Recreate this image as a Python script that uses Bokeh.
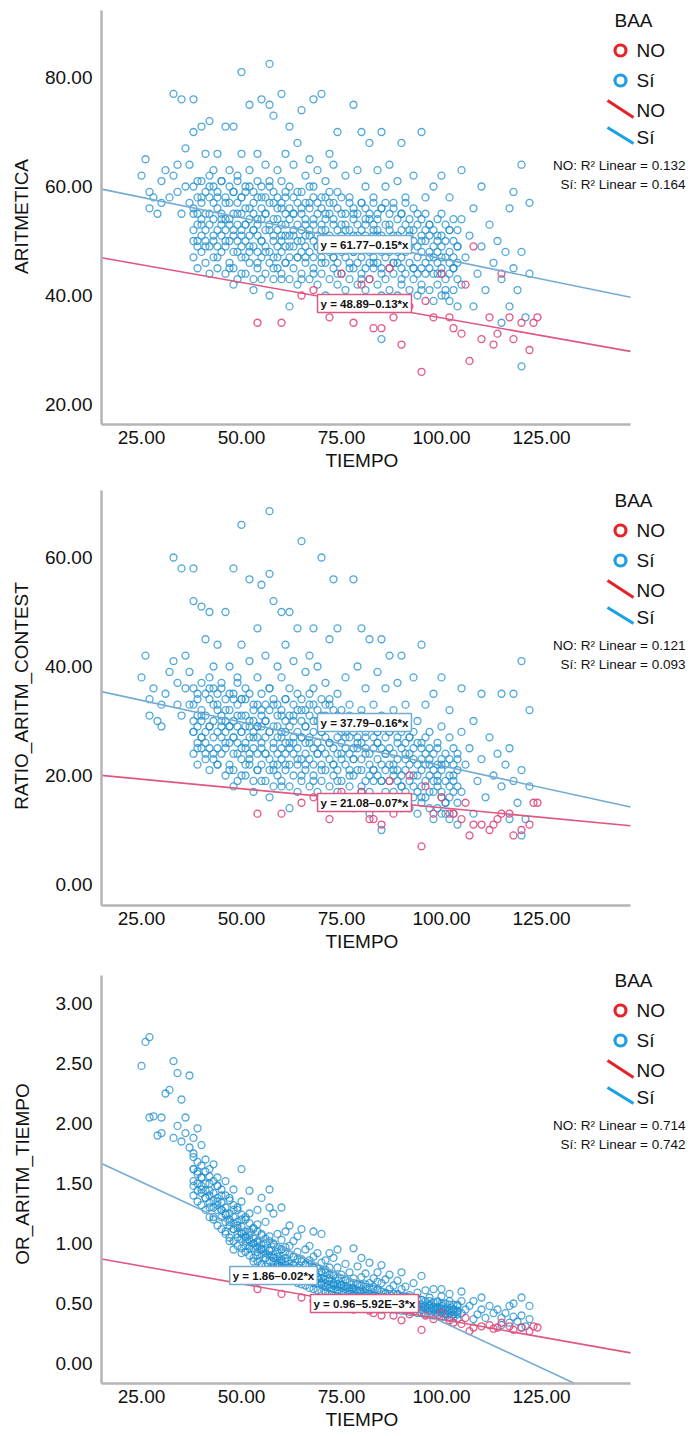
from bokeh.plotting import figure
from bokeh.layouts import column
from bokeh.models import Label, Range1d, FixedTicker, PrintfTickFormatter, Title
from bokeh.embed import file_html
from bokeh.resources import INLINE

# ---------------- data ----------------
# BAA = Sí, scattered subjects (TIEMPO shared by the three panels)
tiempo_si = [
    25, 26, 27, 27, 28, 29, 30, 30, 31, 32, 33, 33, 34, 35, 35, 34,
    36, 36, 37, 37, 38, 38, 38, 39, 39, 40, 40, 40, 41, 41, 42, 42, 42, 43, 43, 44, 44, 44, 45, 45,
    46, 46, 46, 47, 47, 47, 48, 48, 48, 48, 49, 49, 49, 50, 50, 50, 50, 50, 51, 51, 51, 52, 52, 52, 52, 53, 53, 53, 54, 54, 54, 54, 55, 55, 55, 55,
    56, 56, 56, 57, 57, 57, 57, 57, 58, 58, 58, 58, 59, 59, 59, 60, 60, 60, 60, 60, 61, 61, 61, 61, 62, 62, 62, 62, 63, 63, 63, 64, 64, 64, 65, 65,
    65, 65, 66, 66, 66, 67, 67, 67, 68, 68, 68, 68, 69, 69, 70, 70, 70, 70, 71, 71, 71, 72, 72, 72, 73, 73, 73, 74, 74, 74, 75, 75,
    76, 76, 77, 77, 78, 78, 78, 79, 79, 80, 80, 80, 81, 81, 82, 82, 82, 83, 83, 84, 84, 85, 85, 85, 85, 84, 83, 81,
    86, 86, 87, 87, 88, 88, 89, 89, 90, 90, 90, 91, 91, 92, 93, 93, 94, 95, 95, 95, 96, 97, 97, 98, 99, 99,
    100, 100, 100, 101, 102, 102, 103, 104, 105, 105, 105, 106, 107, 108, 108, 109, 110, 110,
    111, 112, 113, 114, 115, 115, 116, 117, 117, 118, 118, 119, 120, 120, 120, 121, 122, 122,
]
aritmetica_si = [
    62, 65, 59, 56, 58, 55, 61, 57, 63, 58, 77, 62, 59, 76, 55, 64,
    67, 60, 57, 64, 76, 70, 55, 61, 50, 71, 58, 53, 66, 49, 72, 60, 55, 63, 51, 58, 47, 66, 54, 61,
    71, 57, 50, 63, 54, 45, 71, 59, 52, 42, 62, 55, 48, 81, 66, 58, 51, 44, 60, 53, 47, 75, 63, 56, 49, 59, 52, 41, 66, 61, 54, 46, 76, 58, 50, 43,
    64, 55, 48, 82.5, 75, 60, 52, 40, 73, 57, 50, 45, 63, 54, 47, 77, 61, 56, 51, 43, 66, 58, 53, 46, 71, 60, 49, 38, 64, 55, 51, 59, 47, 68, 74, 56,
    50, 43, 62, 53, 47, 65, 57, 51, 76, 60, 54, 44, 63, 49, 77, 58, 52, 46, 61, 55, 40, 66, 50, 57, 53, 64, 47, 70, 59, 44, 55, 49,
    62, 52, 58, 45, 75, 55, 48, 63, 51, 70, 57, 43, 60, 49, 68, 54, 38, 58, 46, 63, 51, 70, 56, 44, 32, 55, 52, 53,
    60, 49, 53, 64, 57, 46, 51, 61, 68, 55, 43, 58, 49, 52, 62, 45, 55, 70, 50, 41, 58, 47, 53, 60, 44, 51,
    62, 55, 47, 40, 52, 58, 45, 49, 63, 54, 42, 47, 51, 38, 56, 44, 60, 49,
    41, 53, 46, 50, 35, 43, 48, 56, 38, 45, 59, 41, 64, 48, 27, 36, 57, 44,
]
ratio_si = [
    38, 42, 34, 31, 36, 30, 33, 29, 35, 39, 60, 41, 33, 58, 31, 37,
    42, 36, 33, 39, 58, 52, 28, 35, 25, 51, 31, 27, 45, 24, 50, 36, 29, 40, 23, 33, 22, 44, 30, 37,
    50, 32, 26, 40, 29, 21, 58, 35, 27, 18, 38, 31, 24, 66, 44, 34, 28, 20, 36, 25, 22, 56, 41, 30, 23, 33, 27, 17, 47, 38, 29, 21, 55, 32, 26, 19,
    42, 30, 24, 68.5, 57, 36, 28, 16, 52, 33, 25, 21, 40, 29, 22, 50, 38, 31, 27, 18, 44, 34, 28, 22, 50, 36, 25, 14, 41, 31, 26, 35, 23, 47, 63, 32,
    27, 20, 39, 29, 22, 42, 33, 26, 47, 36, 30, 19, 40, 24, 60, 34, 28, 21, 37, 31, 16, 45, 26, 33, 29, 56, 22, 47, 35, 19, 30, 24,
    38, 27, 33, 20, 56, 30, 23, 40, 26, 47, 32, 17, 36, 24, 45, 29, 13, 33, 21, 39, 26, 45, 31, 19, 10, 28, 30, 27,
    36, 24, 28, 42, 32, 21, 26, 37, 42, 30, 18, 33, 24, 27, 38, 20, 30, 44, 25, 16, 33, 22, 28, 35, 19, 26,
    38, 29, 22, 15, 27, 32, 20, 24, 36, 28, 17, 22, 25, 13, 30, 19, 35, 23,
    16, 27, 20, 24, 35, 18, 22, 25, 12, 19, 35, 15, 41, 21, 9, 12, 32, 18,
]
or_si = [
    2.48, 2.68, 2.72, 2.05, 2.06, 1.90, 2.05, 1.92, 2.25, 2.28, 2.52, 1.88, 2.42, 2.20, 1.85, 1.98,
    2.05, 1.92, 1.80, 2.40, 1.88, 1.75, 1.62, 1.96, 1.58, 1.82, 1.55, 1.45, 1.70, 1.38, 1.62, 1.50, 1.30, 1.66, 1.22, 1.48, 1.35, 1.55, 1.28, 1.40,
    1.52, 1.25, 1.10, 1.38, 1.18, 1.02, 1.45, 1.28, 1.12, 0.95, 1.30, 1.15, 1.05, 1.62, 1.35, 1.20, 1.08, 0.92, 1.22, 1.05, 0.98, 1.44, 1.25, 1.10, 0.96, 1.12, 1.00, 0.85, 1.28, 1.16, 1.02, 0.90, 1.38, 1.08, 0.95, 0.82,
    1.18, 1.00, 0.88, 1.45, 1.30, 1.06, 0.94, 0.78, 1.25, 1.00, 0.88, 0.80, 1.08, 0.93, 0.83, 1.30, 1.03, 0.95, 0.86, 0.75, 1.10, 0.97, 0.88, 0.78, 1.15, 0.98, 0.80, 0.70, 1.02, 0.89, 0.82, 0.93, 0.76, 1.06, 1.12, 0.87,
    0.78, 0.70, 0.95, 0.82, 0.73, 0.98, 0.86, 0.77, 1.10, 0.89, 0.80, 0.67, 0.92, 0.72, 1.08, 0.84, 0.76, 0.67, 0.86, 0.78, 0.60, 0.92, 0.71, 0.80, 0.74, 0.88, 0.66, 0.95, 0.80, 0.61, 0.74, 0.66,
    0.83, 0.70, 0.76, 0.60, 0.96, 0.71, 0.63, 0.81, 0.66, 0.88, 0.72, 0.56, 0.75, 0.62, 0.84, 0.67, 0.52, 0.71, 0.57, 0.76, 0.62, 0.82, 0.67, 0.54, 0.45, 0.68, 0.64, 0.66,
    0.70, 0.58, 0.62, 0.74, 0.65, 0.53, 0.58, 0.69, 0.76, 0.62, 0.49, 0.64, 0.55, 0.57, 0.67, 0.50, 0.59, 0.73, 0.53, 0.45, 0.61, 0.49, 0.55, 0.62, 0.46, 0.52,
    0.62, 0.56, 0.48, 0.41, 0.52, 0.58, 0.45, 0.49, 0.60, 0.52, 0.42, 0.45, 0.48, 0.37, 0.52, 0.41, 0.55, 0.45,
    0.38, 0.48, 0.42, 0.45, 0.32, 0.38, 0.42, 0.48, 0.34, 0.39, 0.50, 0.35, 0.55, 0.40, 0.30, 0.31, 0.48, 0.37,
]

# BAA = Sí, dense core: one TIEMPO value per row, five subjects per row
tiempo_core = [38, 39, 40, 41, 42, 43, 44, 45, 46, 47, 48, 49, 50, 51, 52, 53, 54, 55, 56, 57,
               58, 59, 60, 61, 62, 63, 64, 65, 66, 67, 68, 69, 70, 71, 72, 73, 74, 75, 76, 77,
               78, 79, 80, 81, 82, 83, 84, 85, 86, 87, 88, 89, 90, 91, 92, 93, 94, 95, 96, 97,
               98, 99, 100, 101, 102, 103, 104]
aritmetica_core = [
    [47, 52, 56, 60, 50], [45, 53, 58, 49, 55], [48, 51, 57, 61, 54], [46, 50, 55, 59, 52], [44, 49, 53, 58, 62],
    [47, 54, 57, 50, 60], [45, 52, 56, 49, 59], [48, 51, 55, 61, 53], [44, 49, 54, 58, 52], [46, 50, 57, 60, 53],
    [45, 48, 55, 59, 51], [43, 50, 53, 57, 61], [47, 52, 55, 49, 58], [44, 50, 56, 59, 53], [46, 48, 54, 60, 51],
    [43, 49, 55, 57, 52], [45, 51, 53, 58, 48], [47, 50, 56, 60, 54], [44, 52, 55, 58, 49], [46, 48, 53, 57, 61],
    [43, 51, 54, 59, 47], [45, 49, 56, 52, 58], [44, 48, 53, 57, 50], [46, 51, 55, 59, 49], [43, 47, 54, 56, 51],
    [45, 49, 52, 58, 55], [42, 50, 53, 57, 47], [44, 48, 55, 59, 52], [46, 51, 54, 57, 49], [43, 48, 52, 56, 60],
    [45, 50, 53, 58, 47], [42, 49, 55, 51, 57], [44, 47, 53, 56, 50], [46, 49, 52, 58, 54], [43, 48, 51, 55, 59],
    [45, 50, 54, 57, 47], [42, 46, 52, 56, 49], [44, 48, 53, 58, 51], [41, 47, 50, 55, 53], [43, 49, 52, 57, 46],
    [45, 48, 54, 56, 51], [42, 46, 50, 55, 53], [44, 49, 52, 57, 47], [41, 45, 51, 54, 56], [43, 48, 50, 55, 46],
    [45, 47, 53, 57, 51], [42, 46, 49, 54, 52], [40, 48, 51, 56, 45], [43, 47, 50, 53, 57], [41, 45, 52, 55, 48],
    [44, 49, 51, 56, 46], [40, 46, 50, 54, 48], [42, 47, 52, 55, 45], [44, 48, 50, 53, 57], [41, 46, 49, 54, 51],
    [43, 45, 50, 52, 56], [40, 47, 49, 53, 44], [42, 45, 51, 54, 48], [44, 46, 50, 55, 52], [41, 48, 51, 53, 45],
    [39, 44, 49, 52, 47], [42, 46, 48, 54, 50], [40, 45, 49, 51, 44], [43, 47, 50, 53, 41], [39, 44, 48, 52, 46],
    [41, 45, 47, 50, 54], [38, 43, 46, 49, 52],
]
ratio_core = [
    [24, 28, 33, 36, 30], [22, 29, 34, 26, 31], [25, 27, 32, 37, 30], [23, 26, 31, 35, 28], [21, 25, 29, 34, 38],
    [24, 30, 33, 27, 36], [22, 28, 32, 25, 35], [24, 27, 31, 36, 29], [20, 25, 30, 34, 28], [22, 26, 32, 35, 29],
    [21, 24, 30, 34, 27], [19, 26, 29, 33, 37], [23, 28, 31, 25, 34], [20, 26, 31, 34, 29], [22, 24, 29, 35, 27],
    [19, 25, 30, 32, 28], [21, 27, 29, 33, 24], [22, 25, 31, 35, 29], [19, 27, 30, 33, 24], [21, 23, 28, 32, 36],
    [18, 26, 29, 34, 22], [20, 24, 31, 27, 33], [19, 23, 28, 32, 25], [21, 26, 30, 34, 24], [18, 22, 29, 31, 26],
    [20, 24, 27, 33, 30], [17, 25, 28, 32, 22], [19, 23, 30, 34, 27], [21, 26, 29, 32, 24], [18, 23, 27, 31, 35],
    [20, 25, 28, 33, 22], [17, 24, 30, 26, 32], [19, 22, 28, 31, 25], [21, 24, 27, 33, 29], [18, 23, 26, 30, 34],
    [20, 25, 29, 32, 22], [17, 21, 27, 31, 24], [19, 23, 28, 32, 26], [16, 22, 25, 30, 28], [18, 24, 27, 31, 21],
    [20, 23, 28, 30, 25], [16, 21, 25, 29, 27], [18, 23, 26, 31, 21], [15, 19, 25, 28, 30], [17, 22, 24, 29, 20],
    [19, 21, 27, 30, 25], [16, 20, 23, 28, 26], [14, 22, 25, 29, 19], [17, 21, 24, 27, 30], [15, 19, 25, 28, 22],
    [17, 22, 24, 29, 20], [14, 19, 23, 27, 21], [15, 20, 25, 28, 18], [17, 21, 23, 26, 29], [14, 19, 22, 27, 24],
    [16, 18, 23, 25, 28], [13, 20, 22, 26, 17], [15, 18, 23, 26, 21], [16, 19, 22, 27, 24], [14, 20, 23, 25, 17],
    [12, 17, 21, 24, 19], [14, 18, 20, 25, 22], [13, 17, 21, 23, 16], [15, 19, 22, 24, 13], [12, 16, 20, 23, 18],
    [13, 17, 19, 22, 25], [11, 15, 18, 21, 23],
]
or_core = [
    [1.40, 1.52, 1.62, 1.72, 1.48], [1.35, 1.50, 1.60, 1.44, 1.68], [1.32, 1.42, 1.55, 1.65, 1.48], [1.28, 1.38, 1.50, 1.60, 1.44],
    [1.22, 1.34, 1.44, 1.56, 1.40], [1.20, 1.30, 1.42, 1.52, 1.36], [1.15, 1.28, 1.38, 1.48, 1.32], [1.12, 1.22, 1.34, 1.45, 1.28],
    [1.08, 1.18, 1.30, 1.40, 1.24], [1.05, 1.15, 1.25, 1.36, 1.20], [1.02, 1.12, 1.22, 1.32, 1.17], [0.98, 1.08, 1.18, 1.28, 1.13],
    [0.96, 1.04, 1.14, 1.24, 1.09], [0.93, 1.02, 1.10, 1.20, 1.06], [0.90, 0.98, 1.07, 1.17, 1.03], [0.88, 0.96, 1.04, 1.13, 1.00],
    [0.85, 0.93, 1.01, 1.10, 0.97], [0.83, 0.91, 0.99, 1.07, 0.95], [0.81, 0.88, 0.96, 1.04, 0.92], [0.79, 0.86, 0.94, 1.02, 0.90],
    [0.77, 0.84, 0.91, 0.99, 0.88], [0.75, 0.82, 0.89, 0.97, 0.86], [0.74, 0.80, 0.87, 0.95, 0.84], [0.72, 0.78, 0.85, 0.93, 0.82],
    [0.70, 0.77, 0.83, 0.91, 0.80], [0.69, 0.75, 0.82, 0.89, 0.78], [0.67, 0.74, 0.80, 0.87, 0.77], [0.66, 0.72, 0.78, 0.85, 0.75],
    [0.65, 0.71, 0.77, 0.83, 0.74], [0.63, 0.69, 0.75, 0.82, 0.72], [0.62, 0.68, 0.74, 0.80, 0.71], [0.61, 0.67, 0.72, 0.79, 0.70],
    [0.60, 0.66, 0.71, 0.77, 0.68], [0.59, 0.64, 0.70, 0.76, 0.67], [0.58, 0.63, 0.69, 0.74, 0.66], [0.57, 0.62, 0.67, 0.73, 0.65],
    [0.56, 0.61, 0.66, 0.72, 0.64], [0.55, 0.60, 0.65, 0.71, 0.63], [0.54, 0.59, 0.64, 0.69, 0.62], [0.53, 0.58, 0.63, 0.68, 0.61],
    [0.52, 0.57, 0.62, 0.67, 0.60], [0.52, 0.56, 0.61, 0.66, 0.59], [0.51, 0.55, 0.60, 0.65, 0.58], [0.50, 0.54, 0.59, 0.64, 0.57],
    [0.49, 0.54, 0.58, 0.63, 0.56], [0.49, 0.53, 0.57, 0.62, 0.55], [0.48, 0.52, 0.56, 0.61, 0.54], [0.47, 0.51, 0.56, 0.60, 0.53],
    [0.47, 0.51, 0.55, 0.59, 0.53], [0.46, 0.50, 0.54, 0.58, 0.52], [0.45, 0.49, 0.53, 0.58, 0.51], [0.45, 0.49, 0.53, 0.57, 0.51],
    [0.44, 0.48, 0.52, 0.56, 0.50], [0.44, 0.47, 0.51, 0.56, 0.49], [0.43, 0.47, 0.51, 0.55, 0.49], [0.43, 0.46, 0.50, 0.54, 0.48],
    [0.42, 0.46, 0.49, 0.54, 0.48], [0.42, 0.45, 0.49, 0.53, 0.47], [0.41, 0.45, 0.48, 0.52, 0.47], [0.41, 0.44, 0.48, 0.52, 0.46],
    [0.40, 0.44, 0.47, 0.51, 0.46], [0.40, 0.43, 0.47, 0.51, 0.45], [0.39, 0.43, 0.46, 0.50, 0.45], [0.39, 0.42, 0.46, 0.50, 0.44],
    [0.38, 0.42, 0.45, 0.49, 0.44], [0.38, 0.41, 0.45, 0.49, 0.43], [0.37, 0.41, 0.44, 0.48, 0.43],
]

# BAA = NO
tiempo_no = [54, 60, 65, 68, 72, 75, 78, 80, 82, 83, 85, 87, 88, 90, 92, 95, 96, 98, 100, 102,
             103, 105, 106, 107, 108, 110, 112, 113, 114, 115, 117, 118, 120, 122, 123, 124]
aritmetica_no = [35, 35, 40, 41, 36, 44, 35, 42, 43, 34, 34, 45, 36, 31, 38, 26, 39, 36, 44, 36,
                 34, 33, 42, 28, 49, 32, 36, 31, 33, 44, 36, 32, 35, 30, 35, 36]
ratio_no = [13, 13, 15, 16, 12, 17, 14, 17, 12, 12, 11, 19, 13, 14, 20, 7, 18, 13, 16, 13,
            13, 12, 15, 9, 11, 11, 10, 11, 12, 13, 13, 9, 10, 11, 15, 15]
or_no = [0.62, 0.58, 0.55, 0.52, 0.48, 0.50, 0.45, 0.47, 0.44, 0.42, 0.40, 0.46, 0.40, 0.36, 0.41, 0.28, 0.40, 0.37, 0.42, 0.36,
         0.34, 0.33, 0.38, 0.27, 0.30, 0.31, 0.32, 0.29, 0.30, 0.34, 0.31, 0.28, 0.30, 0.27, 0.31, 0.30]

# axes, fitted lines (intercept, slope) and printed texts
y_labels = ["ARITMETICA", "RATIO_ARITM_CONTEST", "OR_ARITM_TIEMPO"]
x_label = "TIEMPO"
y_ticks = [[20, 40, 60, 80], [0, 20, 40, 60], [0, 0.5, 1.0, 1.5, 2.0, 2.5, 3.0]]
x_ticks = [25, 50, 75, 100, 125]
fit_si = [(61.77, -0.15), (37.79, -0.16), (1.90, -0.0155)]
fit_no = [(48.89, -0.13), (21.08, -0.07), (0.96, -0.00592)]
eq_si = ["y = 61.77\u20130.15*x", "y = 37.79\u20130.16*x", "y = 1.86\u20130.02*x"]
eq_no = ["y = 48.89\u20130.13*x", "y = 21.08\u20130.07*x", "y = 0.96\u20135.92E\u20133*x"]
r2_no = ["0.132", "0.121", "0.714"]
r2_si = ["0.164", "0.093", "0.742"]

# ---------------- layout / style ----------------
FONT = "Liberation Sans"
W = 693
FL = 101                    # frame left (page px)
AXR = 630                   # where the x axis line ends (page px)
X0 = 15.0
XAX = X0 + (AXR - FL) / 4.0          # end of x axis
X1 = X0 + (W - FL) / 4.0             # frame continues to the right edge (legend area)
BLUE_PT, RED_PT = "#1f8fd0", "#e0457a"
BLUE_LN, RED_LN = "#74abd3", "#e0577f"
BLUE_LG, RED_LG = "#1ca0e3", "#e3242b"
XLAB_LEFT = 325             # left edge of the "TIEMPO" title (page px)

geos = [
    dict(top=0, bottom=480, ft=8, at=10, fb=424, ylab_off=10, yref=(80, 77, 20, 404),
         eq_si=(364, 244), eq_no=(364, 303)),
    dict(top=480, bottom=960, ft=486, at=490, fb=905, ylab_off=10, yref=(60, 557, 0, 884),
         eq_si=(364, 722), eq_no=(364, 802)),
    dict(top=960, bottom=1436, ft=964, at=975, fb=1383, ylab_off=20, yref=(3.0, 1003, 0.0, 1363),
         eq_si=(273, 1275), eq_no=(364, 1303)),
]
series_si = [aritmetica_si, ratio_si, or_si]
series_core = [aritmetica_core, ratio_core, or_core]
series_no = [aritmetica_no, ratio_no, or_no]

core_x = [t for t, row in zip(tiempo_core, aritmetica_core) for _ in row]


def dx(px):
    return X0 + (px - FL) / 4.0


def make_dy(g):
    va, pa, vb, pb = g["yref"]
    k = (va - vb) / (pb - pa)
    return lambda py: vb + (pb - py) * k


figs = []
for i, g in enumerate(geos):
    dy = make_dy(g)
    p = figure(width=W, height=g["bottom"] - g["top"],
               x_range=Range1d(X0, X1), y_range=Range1d(dy(g["fb"]), dy(g["ft"])),
               output_backend="svg", toolbar_location=None,
               min_border_left=FL, min_border_right=0,
               min_border_top=g["ft"] - g["top"], min_border_bottom=g["bottom"] - g["fb"])
    p.xgrid.visible = False
    p.ygrid.visible = False
    p.outline_line_color = None
    p.background_fill_color = "white"

    for ax in (p.xaxis[0], p.yaxis[0]):
        ax.axis_line_color = "#b4b4b4"
        ax.axis_line_width = 2.5
        ax.major_tick_line_color = None
        ax.minor_tick_line_color = None
        ax.major_tick_out = 0
        ax.major_tick_in = 0
        ax.major_label_text_font = FONT
        ax.major_label_text_font_size = "19px"
        ax.major_label_text_color = "#111111"
        ax.axis_label_text_font = FONT
        ax.axis_label_text_font_size = "19px"
        ax.axis_label_text_font_style = "normal"
        ax.axis_label_text_color = "#111111"
        ax.formatter = PrintfTickFormatter(format="%.2f")
    p.xaxis[0].ticker = FixedTicker(ticks=x_ticks)
    p.xaxis[0].bounds = (X0, XAX)
    p.xaxis[0].major_label_standoff = 6
    p.yaxis[0].ticker = FixedTicker(ticks=y_ticks[i])
    p.yaxis[0].bounds = (dy(g["fb"]), dy(g["at"]))
    p.yaxis[0].axis_label = y_labels[i]
    p.yaxis[0].major_label_standoff = 9
    p.yaxis[0].axis_label_standoff = g["ylab_off"]

    # x axis title, centred under the axis line (not under the wider frame)
    p.add_layout(Title(text=x_label, align="left", offset=XLAB_LEFT - FL,
                       text_font=FONT, text_font_size="19px", text_font_style="normal",
                       text_color="#111111", standoff=2), "below")

    # points
    core_y = [v for row in series_core[i] for v in row]
    p.scatter(core_x, core_y, marker="circle", size=7, fill_color=None,
              line_color=BLUE_PT, line_alpha=0.78, line_width=1.3)
    p.scatter(tiempo_si, series_si[i], marker="circle", size=7, fill_color=None,
              line_color=BLUE_PT, line_alpha=0.78, line_width=1.3)
    p.scatter(tiempo_no, series_no[i], marker="circle", size=7, fill_color=None,
              line_color=RED_PT, line_alpha=0.9, line_width=1.3)

    # fit lines (drawn over the x-axis extent)
    for (a, b), col in ((fit_si[i], BLUE_LN), (fit_no[i], RED_LN)):
        xs = [X0, XAX]
        p.line(xs, [a + b * x for x in xs], line_color=col, line_width=1.6)

    # equation boxes
    for (px, py), txt, col in ((g["eq_si"], eq_si[i], BLUE_LN), (g["eq_no"], eq_no[i], RED_LN)):
        p.add_layout(Label(x=dx(px), y=dy(py), text=txt, text_font=FONT,
                           text_font_size="11.5px", text_font_style="bold", text_color="#111111",
                           text_align="center", text_baseline="middle",
                           background_fill_color="white", border_line_color=col,
                           border_line_width=1.5, padding=3))

    # legend
    b0 = g["top"]
    p.add_layout(Label(x=dx(633), y=dy(b0 + 20), text="BAA", text_font=FONT,
                       text_font_size="19px", text_color="#111111",
                       text_align="center", text_baseline="middle"))
    p.scatter([dx(620)], [dy(b0 + 50)], marker="circle", size=11, fill_color=None,
              line_color=RED_LG, line_width=3.2)
    p.scatter([dx(620)], [dy(b0 + 80)], marker="circle", size=11, fill_color=None,
              line_color=BLUE_LG, line_width=3.2)
    p.segment(x0=[dx(607)], y0=[dy(b0 + 100)], x1=[dx(633)], y1=[dy(b0 + 117)],
              line_color=RED_LG, line_width=3.2)
    p.segment(x0=[dx(607)], y0=[dy(b0 + 127)], x1=[dx(633)], y1=[dy(b0 + 143)],
              line_color=BLUE_LG, line_width=3.2)
    for txt, px, py in (("NO", 636, 50), ("Sí", 636, 80), ("NO", 636, 110), ("Sí", 636, 137)):
        p.add_layout(Label(x=dx(px), y=dy(b0 + py), text=txt, text_font=FONT,
                           text_font_size="19px", text_color="#111111",
                           text_align="left", text_baseline="middle"))
    for txt, py in (("NO: R\u00b2 Linear = " + r2_no[i], 165), ("Sí: R\u00b2 Linear = " + r2_si[i], 184)):
        p.add_layout(Label(x=dx(685), y=dy(b0 + py), text=txt, text_font=FONT,
                           text_font_size="13.5px", text_color="#111111",
                           text_align="right", text_baseline="middle"))
    figs.append(p)

layout = column(*figs, spacing=0)
open("out.html", "w", encoding="utf-8").write(file_html(layout, INLINE))
